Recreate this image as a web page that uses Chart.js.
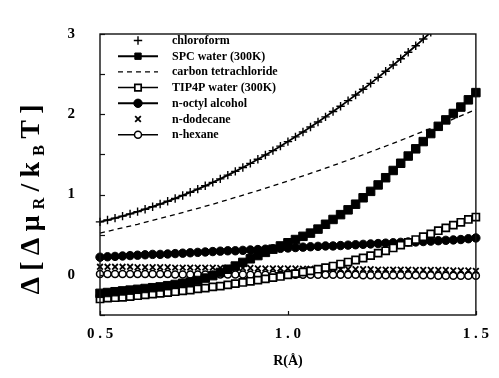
<!DOCTYPE html>
<html>
<head>
<meta charset="utf-8">
<script src="https://cdn.jsdelivr.net/npm/chart.js@4.4.1/dist/chart.umd.min.js"></script>
<style>
  html, body { margin: 0; padding: 0; background: #fff; }
  #wrap { width: 499px; height: 378px; }
</style>
</head>
<body>
<div id="wrap"><canvas id="cavityChart" width="499" height="378"></canvas></div>
<script>
// cavity radius R (Angstrom), shared by the marker series
const R = [0.50, 0.52, 0.54, 0.56, 0.58, 0.60, 0.62, 0.64, 0.66, 0.68,
           0.70, 0.72, 0.74, 0.76, 0.78, 0.80, 0.82, 0.84, 0.86, 0.88,
           0.90, 0.92, 0.94, 0.96, 0.98, 1.00, 1.02, 1.04, 1.06, 1.08,
           1.10, 1.12, 1.14, 1.16, 1.18, 1.20, 1.22, 1.24, 1.26, 1.28,
           1.30, 1.32, 1.34, 1.36, 1.38, 1.40, 1.42, 1.44, 1.46, 1.48, 1.50];

const chloroform = [0.660, 0.683, 0.707, 0.732, 0.760, 0.788, 0.818, 0.849, 0.882, 0.916,
                    0.952, 0.989, 1.028, 1.068, 1.109, 1.152, 1.196, 1.242, 1.289, 1.338,
                    1.388, 1.440, 1.493, 1.547, 1.603, 1.660, 1.719, 1.779, 1.841, 1.904,
                    1.968, 2.034, 2.101, 2.170, 2.240, 2.312, 2.385, 2.460, 2.536, 2.613,
                    2.692, 2.772, 2.854, 2.937, 3.022, 3.108, null, null, null, null, null];

const spcWater = [-0.23, -0.22, -0.21, -0.20, -0.19, -0.18, -0.17, -0.16, -0.15, -0.135,
                  -0.12, -0.105, -0.09, -0.07, -0.04, -0.01, 0.03, 0.07, 0.11, 0.155,
                  0.20, 0.24, 0.28, 0.32, 0.36, 0.40, 0.44, 0.48, 0.52, 0.57,
                  0.63, 0.69, 0.75, 0.81, 0.88, 0.96, 1.04, 1.12, 1.21, 1.30,
                  1.39, 1.48, 1.57, 1.66, 1.76, 1.85, 1.93, 2.01, 2.09, 2.18, 2.27];

// carbon tetrachloride is a plain dashed curve
const ccl4R = [0.5, 0.6, 0.7, 0.8, 0.9, 1.0, 1.1, 1.2, 1.3, 1.4, 1.5];
const ccl4 = [0.52, 0.63, 0.751, 0.88, 1.02, 1.169, 1.328, 1.496, 1.675, 1.862, 2.06];

const tip4pWater = [-0.30, -0.29, -0.285, -0.28, -0.27, -0.26, -0.25, -0.24, -0.23, -0.22,
                    -0.21, -0.20, -0.19, -0.175, -0.165, -0.15, -0.14, -0.125, -0.11, -0.095,
                    -0.08, -0.065, -0.05, -0.035, -0.02, 0.00, 0.015, 0.035, 0.05, 0.07,
                    0.09, 0.11, 0.135, 0.16, 0.185, 0.21, 0.24, 0.27, 0.30, 0.335,
                    0.37, 0.405, 0.44, 0.475, 0.51, 0.55, 0.585, 0.62, 0.655, 0.69, 0.72];

const octylAlcohol = [0.22, 0.225, 0.23, 0.235, 0.24, 0.245, 0.25, 0.255, 0.255, 0.26,
                      0.265, 0.27, 0.275, 0.28, 0.285, 0.29, 0.295, 0.30, 0.30, 0.305,
                      0.31, 0.315, 0.32, 0.325, 0.33, 0.335, 0.34, 0.345, 0.35, 0.355,
                      0.36, 0.36, 0.365, 0.37, 0.375, 0.38, 0.385, 0.39, 0.395, 0.40,
                      0.405, 0.41, 0.41, 0.415, 0.42, 0.425, 0.43, 0.435, 0.44, 0.45, 0.46];

const dodecane = [0.10, 0.10, 0.10, 0.10, 0.10, 0.095, 0.095, 0.095, 0.095, 0.095,
                  0.09, 0.09, 0.09, 0.09, 0.09, 0.09, 0.085, 0.085, 0.085, 0.085,
                  0.085, 0.08, 0.08, 0.08, 0.08, 0.08, 0.08, 0.075, 0.075, 0.075,
                  0.075, 0.075, 0.07, 0.07, 0.07, 0.07, 0.07, 0.065, 0.065, 0.065,
                  0.065, 0.065, 0.06, 0.06, 0.06, 0.06, 0.06, 0.055, 0.055, 0.055, 0.05];

const hexane = [0.01, 0.01, 0.01, 0.01, 0.01, 0.01, 0.01, 0.01, 0.01, 0.01,
                0.005, 0.005, 0.005, 0.005, 0.005, 0.005, 0.005, 0.005, 0.005, 0.005,
                0, 0, 0, 0, 0, 0, 0, 0, 0, 0,
                0, 0, 0, 0, 0, -0.005, -0.005, -0.005, -0.005, -0.005,
                -0.005, -0.005, -0.005, -0.005, -0.005, -0.01, -0.01, -0.01, -0.01, -0.01, -0.01];

const xTickValues = [0.5, 1.0, 1.5];
const xTickLabels = ['0 . 5', '1 . 0', '1 . 5'];
const yTickValues = [0, 1, 2, 3];
const yTickLabels = ['0', '1', '2', '3'];
const xTitle = 'R(Å)';
// y title pieces: [text, isSubscript]
const yTitleParts = [['Δ[Δμ', false], ['R', true], ['/k', false], ['B', true], ['T]', false]];

const SERIF = '"Liberation Serif", "DejaVu Serif", serif';
const INK = '#000';

function pts(xs, ys) {
    return xs.map((x, i) => ({ x: x, y: ys[i] }));
}

const edgeClip = { left: 7, right: 7, top: 0, bottom: 7 };

const datasets = [
    { label: 'chloroform', data: pts(R, chloroform), showLine: true, legendLine: false,
      borderColor: INK, borderWidth: 1.8, pointStyle: 'cross', pointRadius: 4.2,
      pointBorderWidth: 1.4, pointBorderColor: INK, pointBackgroundColor: INK },
    { label: 'SPC water (300K)', data: pts(R, spcWater), showLine: true, legendLine: true,
      borderColor: INK, borderWidth: 2, pointStyle: 'rect', pointRadius: 6,
      pointBorderWidth: 1, pointBorderColor: INK, pointBackgroundColor: INK },
    { label: 'carbon tetrachloride', data: pts(ccl4R, ccl4), showLine: true, legendLine: true,
      borderColor: INK, borderWidth: 1.3, borderDash: [5, 4], pointRadius: 0, pointStyle: false },
    { label: 'TIP4P water (300K)', data: pts(R, tip4pWater), showLine: true, legendLine: true,
      borderColor: INK, borderWidth: 1.5, pointStyle: 'rect', pointRadius: 5,
      pointBorderWidth: 1.7, pointBorderColor: INK, pointBackgroundColor: '#fff' },
    { label: 'n-octyl alcohol', data: pts(R, octylAlcohol), showLine: true, legendLine: true,
      borderColor: INK, borderWidth: 2, pointStyle: 'circle', pointRadius: 4.2,
      pointBorderWidth: 1, pointBorderColor: INK, pointBackgroundColor: INK },
    { label: 'n-dodecane', data: pts(R, dodecane), showLine: false, legendLine: false,
      borderColor: INK, pointStyle: 'crossRot', pointRadius: 4,
      pointBorderWidth: 1.8, pointBorderColor: INK, pointBackgroundColor: INK },
    { label: 'n-hexane', data: pts(R, hexane), showLine: true, legendLine: true,
      borderColor: INK, borderWidth: 1.4, pointStyle: 'circle', pointRadius: 3.5,
      pointBorderWidth: 1.5, pointBorderColor: INK, pointBackgroundColor: '#fff' }
];
datasets.forEach(ds => { ds.clip = edgeClip; ds.tension = 0; });

// frame, inward ticks, y title and the in-plot legend
const decorations = {
    id: 'decorations',
    afterDraw(chart) {
        const ctx = chart.ctx;
        const a = chart.chartArea;
        const xs = chart.scales.x, ys = chart.scales.y;
        ctx.save();
        ctx.strokeStyle = '#111';
        ctx.lineWidth = 1.4;
        ctx.strokeRect(a.left, a.top, a.right - a.left, a.bottom - a.top);

        ctx.lineWidth = 1.2;
        ys.ticks.forEach(t => {
            const py = Math.round(ys.getPixelForValue(t.value)) + 0.5;
            ctx.beginPath(); ctx.moveTo(a.left, py); ctx.lineTo(a.left + 5, py); ctx.stroke();
        });
        xTickValues.forEach(v => {
            const px = Math.round(xs.getPixelForValue(v)) + 0.5;
            ctx.beginPath(); ctx.moveTo(px, a.bottom); ctx.lineTo(px, a.bottom - 4); ctx.stroke();
        });

        // rotated y title with subscripts
        ctx.fillStyle = INK;
        ctx.textBaseline = 'alphabetic';
        const mainFont = 'bold 28px ' + SERIF;
        const subFont = 'bold 16px ' + SERIF;
        const glyphs = [];
        yTitleParts.forEach(([txt, sub]) => {
            for (const ch of txt) glyphs.push({ ch: ch, sub: sub });
        });
        let natural = 0;
        glyphs.forEach(g => {
            ctx.font = g.sub ? subFont : mainFont;
            g.w = ctx.measureText(g.ch).width;
            natural += g.w;
        });
        const span = 190;
        const gap = (span - natural) / (glyphs.length - 1);
        ctx.translate(39, (a.top + a.bottom) / 2 + 25);
        ctx.rotate(-Math.PI / 2);
        let cx = -span / 2;
        glyphs.forEach(g => {
            ctx.font = g.sub ? subFont : mainFont;
            ctx.fillText(g.ch, cx, g.sub ? 5 : 0);
            cx += g.w + gap;
        });
        ctx.setTransform(1, 0, 0, 1, 0, 0);

        // legend
        const lx0 = 118, lx1 = 158, mx = 138, tx = 172;
        const ly0 = 40.5, lstep = 15.7;
        ctx.font = 'bold 12px ' + SERIF;
        ctx.textBaseline = 'middle';
        chart.data.datasets.forEach((ds, i) => {
            const y = ly0 + i * lstep;
            ctx.strokeStyle = INK;
            if (ds.legendLine) {
                ctx.lineWidth = ds.borderWidth || 1.2;
                ctx.setLineDash(ds.borderDash || []);
                ctx.beginPath(); ctx.moveTo(lx0, y); ctx.lineTo(lx1, y); ctx.stroke();
                ctx.setLineDash([]);
            }
            if (ds.pointStyle) {
                ctx.fillStyle = ds.pointBackgroundColor;
                ctx.strokeStyle = ds.pointBorderColor;
                ctx.lineWidth = ds.pointBorderWidth;
                Chart.helpers.drawPoint(ctx, {
                    pointStyle: ds.pointStyle, radius: Math.min(ds.pointRadius, 4.5),
                    rotation: 0, borderWidth: ds.pointBorderWidth
                }, mx, y);
            }
            ctx.fillStyle = INK;
            ctx.fillText(ds.label, tx, y + 0.5);
        });
        ctx.restore();
    }
};

new Chart(document.getElementById('cavityChart'), {
    type: 'scatter',
    data: { datasets: datasets },
    options: {
        responsive: false,
        animation: false,
        devicePixelRatio: 1,
        layout: { padding: { top: 17, right: 16, left: 0, bottom: 0 } },
        plugins: { legend: { display: false }, tooltip: { enabled: false } },
        scales: {
            x: {
                type: 'linear', min: 0.5, max: 1.5,
                grid: { display: false, drawTicks: false },
                border: { display: false },
                ticks: {
                    stepSize: 0.5, padding: 10, color: INK, maxRotation: 0, autoSkip: false,
                    font: { family: SERIF, size: 15, weight: 'bold' },
                    callback: v => {
                        const i = xTickValues.indexOf(v);
                        return i >= 0 ? xTickLabels[i] : '';
                    }
                },
                title: {
                    display: true, text: xTitle, color: INK,
                    font: { family: SERIF, size: 14, weight: 'bold' },
                    padding: { top: 0, bottom: 8 }
                },
                afterFit: s => { s.height = 63; }
            },
            y: {
                type: 'linear', min: -0.5, max: 3,
                grid: { display: false, drawTicks: false },
                border: { display: false },
                ticks: {
                    stepSize: 0.5, padding: 25, color: INK,
                    font: { family: SERIF, size: 15, weight: 'bold' },
                    callback: v => {
                        const i = yTickValues.indexOf(v);
                        return i >= 0 ? yTickLabels[i] : '';
                    }
                },
                afterFit: s => { s.width = 100; }
            }
        }
    },
    plugins: [decorations]
});
</script>
</body>
</html>
